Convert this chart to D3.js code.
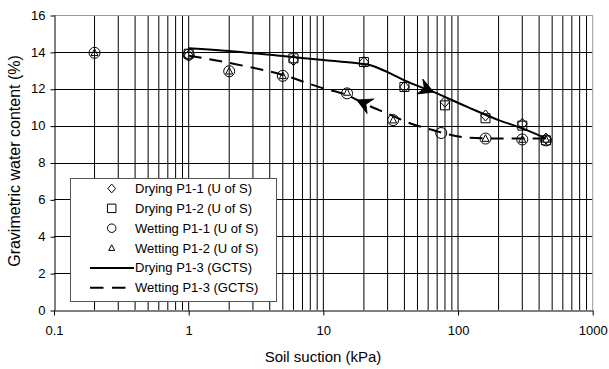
<!DOCTYPE html>
<html>
<head>
<meta charset="utf-8">
<script src="https://cdn.jsdelivr.net/npm/d3@7"></script>
<style>
  body { margin: 0; background: #fff; }
  text { font-family: "Liberation Sans", Arial, sans-serif; fill: #000; }
</style>
</head>
<body>
<script>
// measured points (U of S)
var dry1X = [1, 6, 20, 40, 80, 160, 300, 450],
    dry1Y = [13.8, 13.55, 13.45, 12.1, 11.3, 10.55, 10.1, 9.3];
var dry2X = [1, 6, 20, 40, 80, 160, 300, 450],
    dry2Y = [13.9, 13.65, 13.45, 12.1, 11.1, 10.4, 10.0, 9.2];
var wet1X = [0.2, 1, 2, 5, 15, 33, 75, 160, 300, 450],
    wet1Y = [13.95, 13.85, 12.95, 12.7, 11.75, 10.3, 9.6, 9.3, 9.25, 9.2];
var wet2X = [0.2, 2, 5, 15, 33, 160, 300, 450],
    wet2Y = [13.95, 12.95, 12.7, 11.8, 10.3, 9.3, 9.25, 9.25];

// GCTS curves
var dry3X = [1, 2, 5, 10, 18, 22, 30, 40, 65, 116, 200, 300, 450],
    dry3Y = [14.2, 14.05, 13.77, 13.56, 13.38, 13.29, 12.9, 12.45, 11.84, 11.03, 10.3, 9.85, 9.31];
var wet3X = [1, 2, 5, 10, 15, 20, 30, 45, 65, 90, 120, 200, 450],
    wet3Y = [13.8, 13.4, 12.75, 12.02, 11.66, 11.2, 10.65, 10.1, 9.76, 9.48, 9.35, 9.3, 9.3];

var xTicks = [0.1, 1, 10, 100, 1000],
    yTicks = [0, 2, 4, 6, 8, 10, 12, 14, 16];

var legendNames = ["Drying P1-1 (U of S)", "Drying P1-2 (U of S)", "Wetting P1-1 (U of S)",
    "Wetting P1-2 (U of S)", "Drying P1-3 (GCTS)", "Wetting P1-3 (GCTS)"];

var W = 609, H = 369;
var svg = d3.select("body").append("svg").attr("width", W).attr("height", H);

var x = d3.scaleLog().domain([0.1, 1000]).range([54, 592.7]);
var y = d3.scaleLinear().domain([0, 16]).range([310, 15]);

// grid
var minor = [];
[0.1, 1, 10, 100].forEach(function(d) {
    for (var k = 2; k <= 9; k++) minor.push(d * k);
});
svg.append("g").selectAll("line").data(minor).enter().append("line")
    .attr("x1", d => x(d)).attr("x2", d => x(d))
    .attr("y1", y(0)).attr("y2", y(16))
    .attr("stroke", "#000").attr("stroke-width", 1);
svg.append("g").selectAll("line").data([1, 10, 100]).enter().append("line")
    .attr("x1", d => x(d)).attr("x2", d => x(d))
    .attr("y1", y(0)).attr("y2", y(16))
    .attr("stroke", "#000").attr("stroke-width", 1);
svg.append("g").selectAll("line").data([2, 4, 6, 8, 10, 12, 14]).enter().append("line")
    .attr("x1", x(0.1)).attr("x2", x(1000))
    .attr("y1", d => Math.round(y(d)) + 0.5).attr("y2", d => Math.round(y(d)) + 0.5)
    .attr("stroke", "#000").attr("stroke-width", 1);

// frame top / right
svg.append("path")
    .attr("d", "M" + x(0.1) + "," + (y(16) + 0.5) + "H" + x(1000) + "V" + y(0))
    .attr("fill", "none").attr("stroke", "#9a9a9a").attr("stroke-width", 1);

// axes
var yAxis = svg.append("g").attr("transform", "translate(54.5,0)")
    .call(d3.axisLeft(y).tickValues(yTicks).tickSize(4).tickSizeOuter(0).tickPadding(5));
var xAxis = svg.append("g").attr("transform", "translate(0,310.5)")
    .call(d3.axisBottom(x).tickValues(xTicks).tickFormat(d => String(d)).tickSize(5).tickSizeOuter(0).tickPadding(10));
[xAxis, yAxis].forEach(function(a) {
    a.attr("font-family", null).attr("font-size", null);
    a.selectAll("text").style("font-size", "13px");
    a.selectAll("path, line").attr("stroke", "#000");
});
yAxis.selectAll(".tick line").attr("transform", "translate(0,0.5)");

// curves
var line = d3.line().x(d => x(d[0])).y(d => y(d[1])).curve(d3.curveMonotoneX);
svg.append("path").datum(d3.zip(dry3X, dry3Y)).attr("d", line)
    .attr("fill", "none").attr("stroke", "#000").attr("stroke-width", 2);
svg.append("path").datum(d3.zip(wet3X, wet3Y)).attr("d", line)
    .attr("fill", "none").attr("stroke", "#000").attr("stroke-width", 2)
    .attr("stroke-dasharray", "13,8");

// arrows
function interp(xs, ys, xv) {
    for (var i = 1; i < xs.length; i++) {
        if (xv <= xs[i]) {
            var t = (Math.log(xv) - Math.log(xs[i - 1])) / (Math.log(xs[i]) - Math.log(xs[i - 1]));
            return ys[i - 1] + t * (ys[i] - ys[i - 1]);
        }
    }
    return ys[ys.length - 1];
}
function arrow(xs, ys, xv, back) {
    var px = x(xv), py = y(interp(xs, ys, xv));
    var bx = xv * (back ? 1.25 : 0.8);
    var qx = x(bx), qy = y(interp(xs, ys, bx));
    var ang = Math.atan2(py - qy, px - qx) * 180 / Math.PI;
    svg.append("path")
        .attr("d", "M1,0L-14,-8L-9,0L-14,8Z")
        .attr("transform", "translate(" + [px, py] + ")rotate(" + ang + ")")
        .attr("fill", "#000").attr("stroke", "#000").attr("stroke-width", 0.8)
        .attr("stroke-linejoin", "miter");
}
arrow(dry3X, dry3Y, 65, false);
arrow(wet3X, wet3Y, 18, true);

// markers
var sym = {
    diamond: (s) => "M0," + (-s * 0.55) + "L" + (s * 0.48) + ",0L0," + (s * 0.55) + "L" + (-s * 0.48) + ",0Z",
    square: (s) => "M" + (-s / 2) + "," + (-s / 2) + "h" + s + "v" + s + "h" + (-s) + "Z",
    circle: (s) => d3.symbol(d3.symbolCircle, Math.PI * s * s / 4)(),
    triangle: (s) => "M0," + (-s * 0.55) + "L" + (s * 0.5) + "," + (s * 0.4) + "L" + (-s * 0.5) + "," + (s * 0.4) + "Z"
};
function points(xs, ys, type, size) {
    svg.append("g").selectAll("path").data(d3.zip(xs, ys)).enter().append("path")
        .attr("d", sym[type](size))
        .attr("transform", d => "translate(" + [x(d[0]), y(d[1])] + ")")
        .attr("fill", "none").attr("stroke", "#000").attr("stroke-width", 1);
}
points(dry1X, dry1Y, "diamond", 10);
points(dry2X, dry2Y, "square", 9);
points(wet1X, wet1Y, "circle", 11);
points(wet2X, wet2Y, "triangle", 7);

// legend
var lg = svg.append("g");
lg.append("rect").attr("x", 70.5).attr("y", 178.5).attr("width", 206).attr("height", 123)
    .attr("fill", "#fff").attr("stroke", "#555").attr("stroke-width", 1);
var types = ["diamond", "square", "circle", "triangle"], sizes = [8, 8.5, 8.5, 6];
legendNames.forEach(function(name, i) {
    var cy = 188.5 + i * 19.85;
    if (i < 4) {
        lg.append("path").attr("d", sym[types[i]](sizes[i]))
            .attr("transform", "translate(" + [111.7, cy] + ")")
            .attr("fill", "none").attr("stroke", "#000").attr("stroke-width", 1);
    } else {
        lg.append("line").attr("x1", 90).attr("x2", 134).attr("y1", cy).attr("y2", cy)
            .attr("stroke", "#000").attr("stroke-width", 2)
            .attr("stroke-dasharray", i == 5 ? "13.5,8.5" : null);
    }
    lg.append("text").attr("x", 135).attr("y", cy).attr("dy", "0.35em")
        .style("font-size", "13px").text(name);
});

// titles
svg.append("text").attr("x", 323).attr("y", 362).attr("text-anchor", "middle")
    .style("font-size", "15px").text("Soil suction (kPa)");
svg.append("text").attr("transform", "translate(20,161)rotate(-90)").attr("text-anchor", "middle")
    .style("font-size", "16px").text("Gravimetric water content (%)");
</script>
</body>
</html>
